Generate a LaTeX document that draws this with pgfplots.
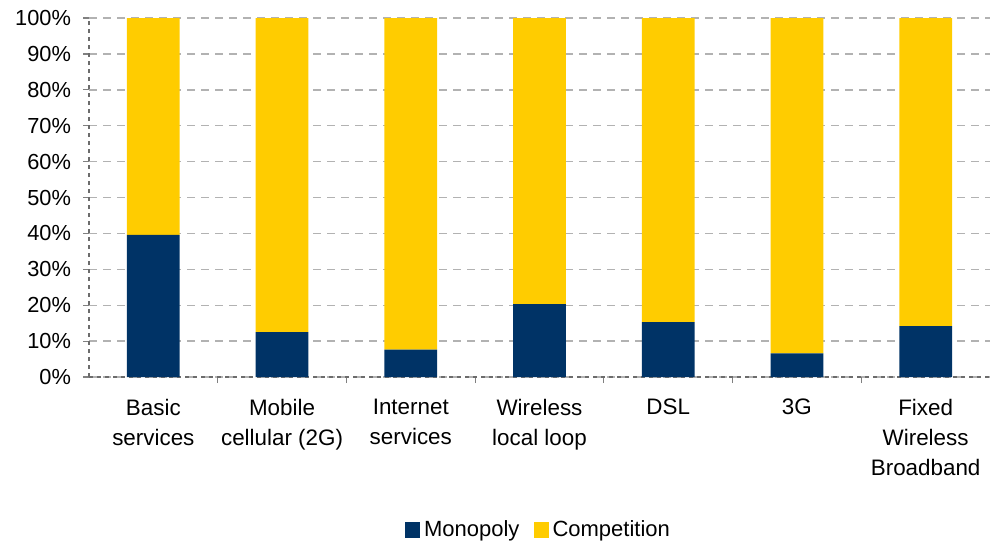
\documentclass[border=0pt]{standalone}
\usepackage{pgfplots}
\pgfplotsset{compat=1.18}
\usepackage{fontspec}
\setmainfont{Liberation Sans}
\definecolor{mono}{HTML}{003366}
\definecolor{comp}{HTML}{FFCC00}
\begin{document}
\begin{tikzpicture}
\begin{axis}[
  scale only axis,
  width=450.5pt, height=179.5pt,
  ybar stacked,
  bar width=0.41,
  xmin=-0.5, xmax=6.5,
  ymin=0, ymax=100,
  xtick={0,...,6},
  xticklabels={{Basic\\services},{Mobile\\cellular (2G)},{Internet\\services},{Wireless\\local loop},{DSL},{3G},{Fixed\\Wireless\\Broadband}},
  x tick label style={align=center, font=\fontsize{11.2}{15}\selectfont, yshift=-4.5pt},
  major x tick style={draw=none},
  minor xtick={0.5,1.5,...,5.5},
  minor x tick style={gray, line width=0.6pt},
  minor tick length=3pt,
  ytick={0,10,...,100},
  yticklabel={\pgfmathprintnumber{\tick}\%},
  /pgf/number format/assume math mode=true,
  y tick label style={font=\fontsize{10.9}{12}\selectfont, xshift=-2.5pt},
  major y tick style={gray, line width=0.6pt},
  major tick length=3pt,
  tick align=outside,
  ymajorgrids,
  grid style={gray!60, line width=0.7pt, dash pattern=on 4pt off 3pt},
  axis x line*=bottom,
  axis y line*=left,
  axis line style={gray!85!black, line width=0.8pt, dash pattern=on 2pt off 2pt, -},
  legend style={at={(0.5,-0.426)}, anchor=center, draw=none, legend columns=2,
    font=\fontsize{11}{12}\selectfont, /tikz/every even column/.append style={column sep=5pt}},
  legend image code/.code={\fill[#1] (0pt,-3.8pt) rectangle (7.5pt,3.8pt);},
  clip=false,
]
\addplot[fill=mono, draw=none] coordinates {(0,39.6) (1,12.5) (2,7.6) (3,20.3) (4,15.3) (5,6.6) (6,14.2)};
\addplot[fill=comp, draw=none] coordinates {(0,60.4) (1,87.5) (2,92.4) (3,79.7) (4,84.7) (5,93.4) (6,85.8)};
\legend{Monopoly, Competition}
\coordinate (ll) at (rel axis cs:0,0);
\coordinate (ur) at (rel axis cs:1,1);
\end{axis}
\pgfresetboundingbox
\path[use as bounding box] ([xshift=-44.5pt,yshift=-82.5pt]ll) rectangle ([yshift=9pt]ur);
\end{tikzpicture}
\end{document}
